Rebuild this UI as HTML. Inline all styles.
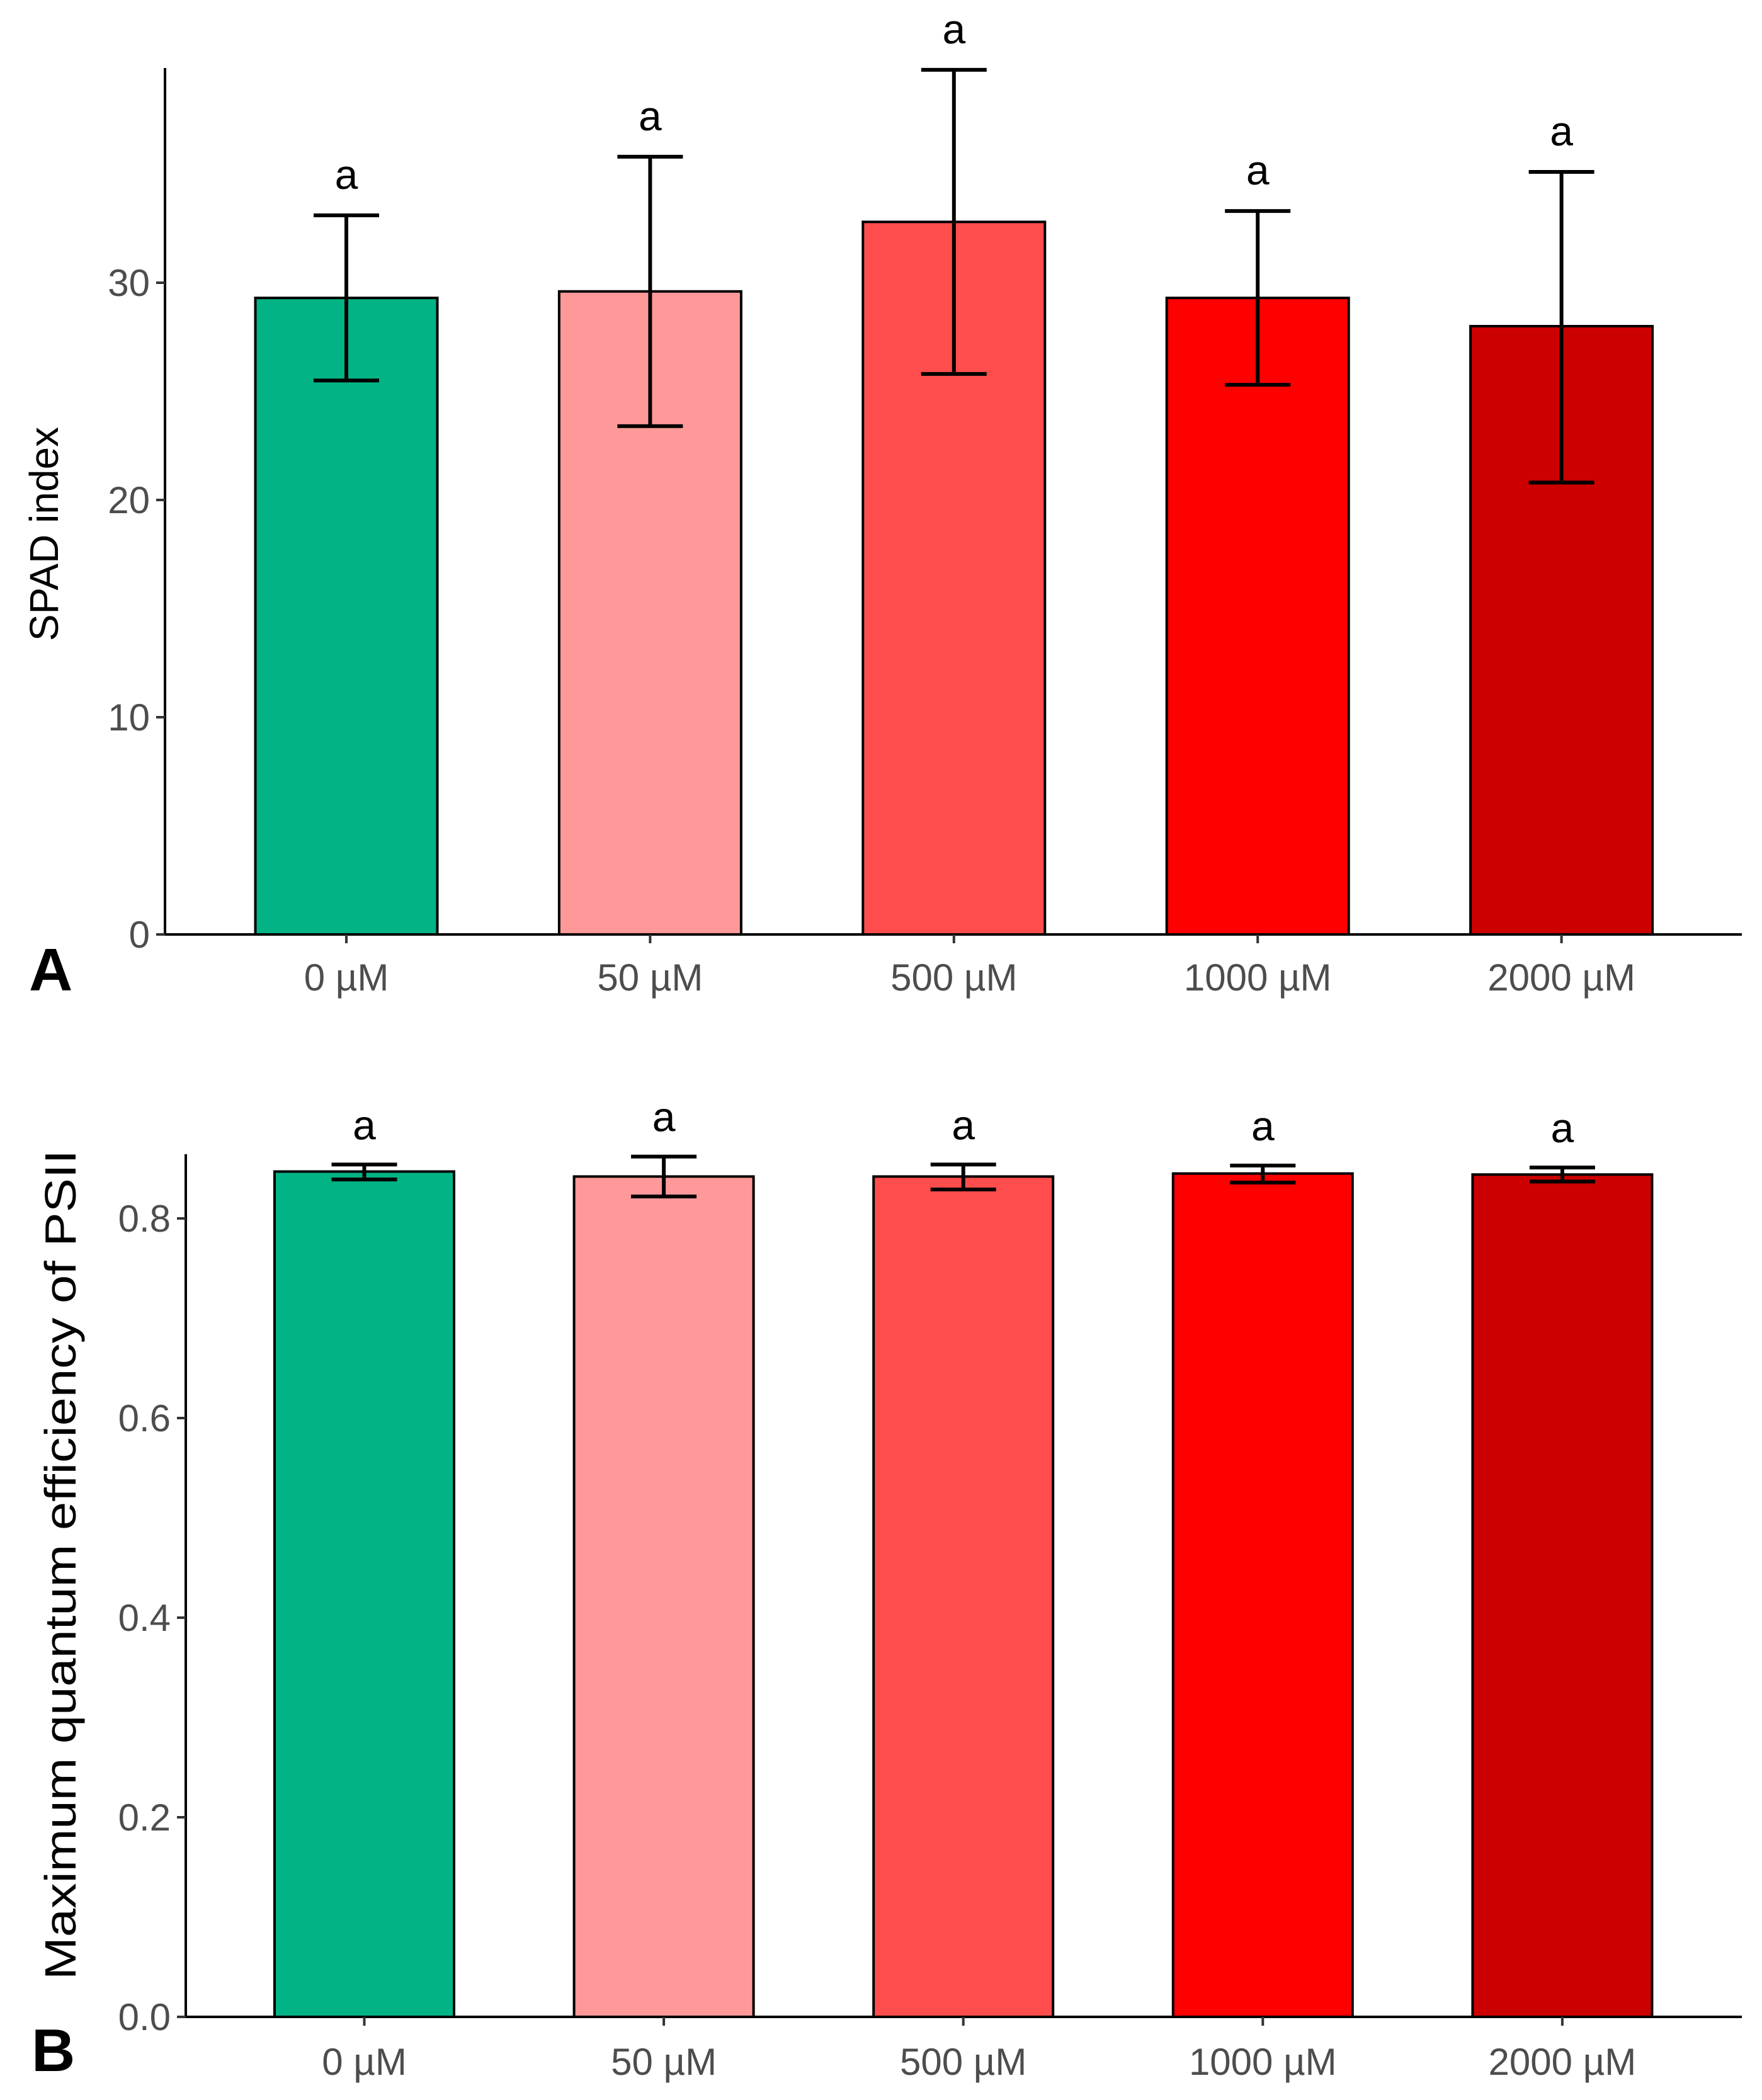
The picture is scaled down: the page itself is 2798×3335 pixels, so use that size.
<!DOCTYPE html>
<html><head><meta charset="utf-8">
<style>
html,body{margin:0;padding:0;background:#fff;}
svg{display:block;}
text{font-family:"Liberation Sans",sans-serif;}
</style></head>
<body>
<svg id="fig" width="2798" height="3335" viewBox="0 0 2798 3335" xmlns="http://www.w3.org/2000/svg">
<rect width="2798" height="3335" fill="#fff"/>
<g id="panelA"></g>
<g id="panelB"></g>
</svg>
<script>
const categories = ["0 µM","50 µM","500 µM","1000 µM","2000 µM"];
const colors = ["#02b385","#ff9999","#ff4d4d","#ff0000","#cc0000"];
const spadMeans = [29.3, 29.6, 32.8, 29.3, 28.0];
const spadUpper = [33.1, 35.8, 39.8, 33.3, 35.1];
const spadLower = [25.5, 23.4, 25.8, 25.3, 20.8];
const spadTicks = [0, 10, 20, 30];
const spadTickLabels = ["0","10","20","30"];
const psiiMeans = [0.847, 0.842, 0.842, 0.845, 0.844];
const psiiUpper = [0.854, 0.862, 0.854, 0.853, 0.851];
const psiiLower = [0.839, 0.822, 0.829, 0.836, 0.837];
const psiiTicks = [0, 0.2, 0.4, 0.6, 0.8];
const psiiTickLabels = ["0.0","0.2","0.4","0.6","0.8"];
const letters = ["a","a","a","a","a"];

const NS = "http://www.w3.org/2000/svg";
function mk(parent, tag, attrs, txt){
  const e = document.createElementNS(NS, tag);
  for (const k in attrs) e.setAttribute(k, attrs[k]);
  if (txt !== undefined) e.textContent = txt;
  parent.appendChild(e);
  return e;
}

function drawPanel(g, cfg){
  const y = v => cfg.y0 - (v - cfg.vmin) / (cfg.vmax - cfg.vmin) * (cfg.y0 - cfg.yTopVal);
  const x = i => cfg.x0c + i * cfg.step;
  cfg.means.forEach((m, i) => {
    const r = mk(g, "rect", {x: x(i) - cfg.bw/2, y: y(m), width: cfg.bw, height: y(0) - y(m), fill: colors[i], stroke: "#000", "stroke-width": 4});
    
    
  });
  cfg.means.forEach((m, i) => {
    const eg = mk(g, "g", {stroke: "#000", "stroke-width": 6, fill: "none"});
    
    
    const yu = y(cfg.upper[i]), yl = y(cfg.lower[i]);
    mk(eg, "line", {x1: x(i), x2: x(i), y1: yu, y2: yl});
    mk(eg, "line", {x1: x(i) - cfg.cap, x2: x(i) + cfg.cap, y1: yu, y2: yu});
    mk(eg, "line", {x1: x(i) - cfg.cap, x2: x(i) + cfg.cap, y1: yl, y2: yl});
    const t = mk(g, "text", {x: x(i), y: yu - cfg.letterGap, "text-anchor": "middle", "font-size": 66, fill: "#000"}, letters[i]);
    
    
  });
  const ax = mk(g, "line", {x1: cfg.xAxis, x2: cfg.xAxis, y1: cfg.axTop, y2: y(0) + 2, stroke: "#000", "stroke-width": 4});
  
  
  const bx = mk(g, "line", {x1: cfg.xAxis - 2, x2: cfg.xEnd, y1: y(0), y2: y(0), stroke: "#000", "stroke-width": 4});
  
  
  cfg.ticks.forEach((tv, k) => {
    mk(g, "line", {x1: cfg.xAxis - 14, x2: cfg.xAxis, y1: y(tv), y2: y(tv), stroke: "#333", "stroke-width": 4});
    const t = mk(g, "text", {x: cfg.xAxis - 24, y: y(tv) + 21, "text-anchor": "end", "font-size": 60, fill: "#4d4d4d"}, cfg.tickLabels[k]);
    
    
  });
  categories.forEach((c, i) => {
    mk(g, "line", {x1: x(i), x2: x(i), y1: y(0), y2: y(0) + 14, stroke: "#333", "stroke-width": 4});
    const t = mk(g, "text", {x: x(i), y: cfg.labelBase, "text-anchor": "middle", "font-size": 60, fill: "#4d4d4d"}, c);
    
    
  });
  const ta = {x: 0, y: 0, "text-anchor": "middle", "font-size": cfg.titleSize, fill: "#000", transform: "translate(" + cfg.titleX + "," + cfg.titleY + ") rotate(-90)"};
  if (cfg.titleLen) { ta.textLength = cfg.titleLen; ta.lengthAdjust = "spacingAndGlyphs"; }
  const yt = mk(g, "text", ta, cfg.title);
  
  
  const pl = mk(g, "text", {x: cfg.panelX, y: cfg.panelY, "font-size": 96, "font-weight": "bold", fill: "#000"}, cfg.panel);
  
  
}

drawPanel(document.getElementById("panelA"), {
  means: spadMeans, upper: spadUpper, lower: spadLower, ticks: spadTicks, tickLabels: spadTickLabels,
  vmin: 0, vmax: 30, y0: 1484, yTopVal: 449, axTop: 108,
  x0c: 550, step: 482.4, bw: 289, cap: 52, letterGap: 42,
  xAxis: 262, xEnd: 2766, labelBase: 1573,
  title: "SPAD index", titleX: 92, titleY: 848, titleSize: 64,
  panel: "A", panelX: 46, panelY: 1573
});
drawPanel(document.getElementById("panelB"), {
  means: psiiMeans, upper: psiiUpper, lower: psiiLower, ticks: psiiTicks, tickLabels: psiiTickLabels,
  vmin: 0, vmax: 0.8, y0: 3203, yTopVal: 1935, axTop: 1833,
  x0c: 578.5, step: 475.6, bw: 285, cap: 52, letterGap: 40,
  xAxis: 295, xEnd: 2766, labelBase: 3295,
  title: "Maximum quantum efficiency of PSII", titleX: 120, titleY: 2485, titleSize: 70, titleLen: 1318,
  panel: "B", panelX: 50, panelY: 3289
});
</script>
</body></html>
